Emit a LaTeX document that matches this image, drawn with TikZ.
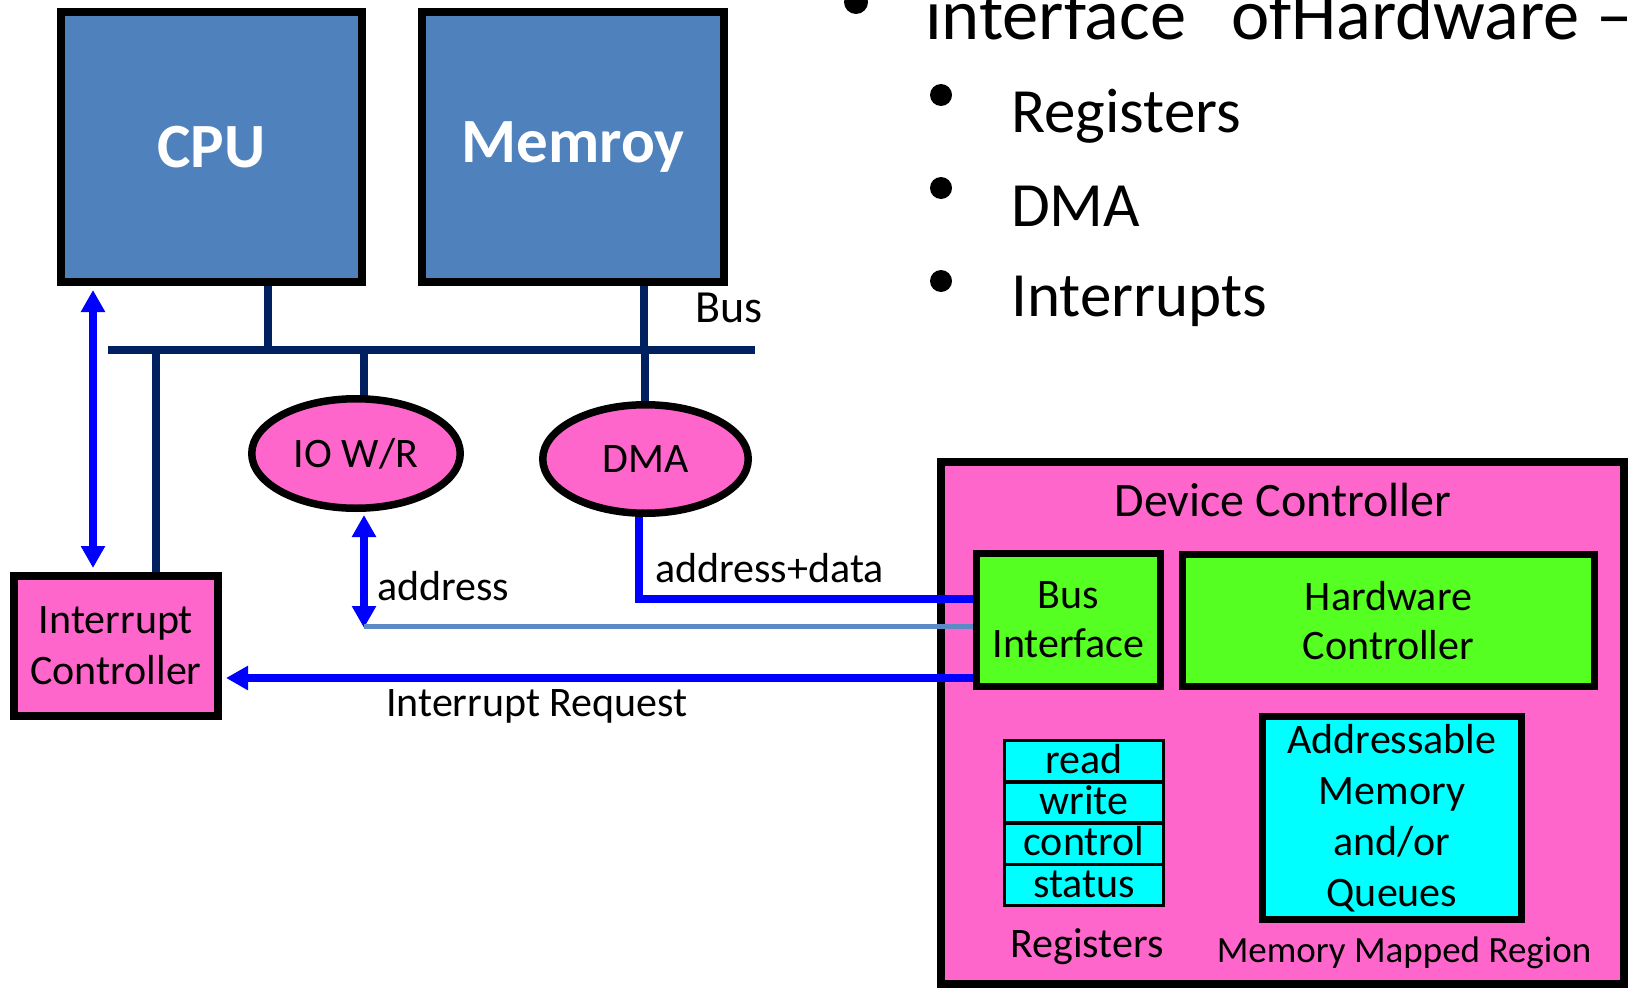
\documentclass[tikz,border=0pt]{standalone}
\usepackage{fontspec}
\setmainfont{Carlito}
\usetikzlibrary{arrows.meta,shapes.geometric}
\definecolor{unitblue}{HTML}{4F81BD}
\definecolor{busnavy}{HTML}{002060}
\definecolor{pinkfill}{HTML}{FF66CC}
\definecolor{greenfill}{HTML}{55FF22}
\definecolor{cyanfill}{HTML}{00FFFF}
\definecolor{sigblue}{HTML}{0000FF}
\definecolor{addrline}{HTML}{5B8AC5}
\pgfdeclarelayer{back}
\pgfdeclarelayer{wires}
\pgfsetlayers{back,wires,main}
\newcommand\lblfont{\fontsize{42}{51}\selectfont}
\begin{document}
\begin{tikzpicture}[x=1pt,y=-1pt,
  unitbox/.style={rectangle, draw=black, line width=8pt, fill=unitblue, text=white,
    inner sep=0pt, font=\fontsize{63}{74}\selectfont\bfseries},
  pinkbox/.style={rectangle, draw=black, line width=8pt, fill=pinkfill, inner sep=0pt,
    font=\lblfont, align=center},
  pinkell/.style={ellipse, draw=black, line width=7.5pt, fill=pinkfill, inner sep=0pt,
    font=\lblfont},
  greenbox/.style={rectangle, draw=black, line width=7pt, fill=greenfill, inner sep=0pt,
    font=\fontsize{42}{49}\selectfont, align=center},
  cyanbox/.style={rectangle, draw=black, line width=7pt, fill=cyanfill, inner sep=0pt,
    font=\lblfont, align=center},
  regrow/.style={rectangle, draw=black, line width=3.5pt, fill=cyanfill, inner sep=0pt,
    minimum width=159pt, minimum height=41.25pt, text height=30pt, text depth=6pt,
    font=\lblfont},
  lbl/.style={inner sep=0pt, font=\lblfont},
  busline/.style={draw=busnavy, line width=8pt},
  tapline/.style={draw=busnavy, line width=7.5pt},
  sig/.style={draw=sigblue, line width=7.5pt},
  addr/.style={draw=addrline, line width=5pt},
  tip/.tip={Triangle[length=22pt,width=23pt]},
  bulletdot/.style={circle, fill=black, inner sep=0pt},
]
\useasboundingbox (0,0) rectangle (1631,990);

% processor, memory and the units hanging off the bus
\node[unitbox, minimum width=301pt, minimum height=270pt] (cpu) at (211.5,147) {CPU};
\node[unitbox, minimum width=302pt, minimum height=270pt] (mem) at (573,147) {Memroy};
\node[pinkell, minimum width=208.5pt, minimum height=109.5pt] (io) at (356,453.5) {IO W/R};
\node[pinkell, minimum width=205.5pt, minimum height=108.5pt] (dma) at (645.5,459) {DMA};
\node[pinkbox, minimum width=204pt, minimum height=140pt] (ic) at (116,646) {Interrupt\\Controller};
\node[lbl, font=\fontsize{46}{54}\selectfont] (buslbl) at (729,308) {Bus};

% device controller
\begin{pgfonlayer}{back}
\node[pinkbox, minimum width=683pt, minimum height=522pt] (dc) at (1282.5,723) {};
\end{pgfonlayer}
\node[lbl, font=\fontsize{48}{56}\selectfont] (dctitle) at (1283,500) {Device Controller};
\node[greenbox, minimum width=184pt, minimum height=133pt] (bi) at (1068.5,620) {Bus\\Interface};
\node[greenbox, minimum width=412pt, minimum height=132pt] (hc) at (1388.5,620.5) {Hardware\\Controller};
\node[regrow] (rread) at (1084,761.25) {read};
\node[regrow] (rwrite) at (1084,802.5) {write};
\node[regrow] (rctrl) at (1084,843.75) {control};
\node[regrow] (rstat) at (1084,885) {status};
\node[cyanbox, minimum width=259pt, minimum height=203pt] (amem) at (1392,818)
  {Addressable\\Memory\\and/or\\Queues};
\node[lbl] (reglbl) at (1087,947) {Registers};
\node[lbl, font=\fontsize{37}{44}\selectfont] (mmrlbl) at (1404,953) {Memory Mapped Region};

% bus and its taps
\coordinate (busL) at (108,350);
\coordinate (busR) at (755,350);
\coordinate (cputap) at (268,350);
\coordinate (memtap) at (644,350);
\coordinate (ictap) at (156,350);
\coordinate (iotap) at (364,350);
\coordinate (dmatap) at (645,350);
\coordinate (cpuarr) at (93,0);
\coordinate (addrcorner) at (364,626);
\coordinate (adcorner) at (639,599);
\coordinate (irq) at (976,678);

\begin{pgfonlayer}{wires}
\draw[busline] (busL) -- (busR);
\draw[tapline] (cputap) -- (cputap |- cpu.center);
\draw[tapline] (memtap) -- (memtap |- mem.center);
\draw[tapline] (ictap) -- (ictap |- ic.center);
\draw[tapline] (iotap) -- (iotap |- io.center);
\draw[tapline] (dmatap) -- (dmatap |- dma.center);
\draw[sig, {tip}-{tip}, shorten <=4pt, shorten >=4pt] (cpuarr |- cpu.south) -- (cpuarr |- ic.north);
\draw[sig, {tip}-{tip}, shorten <=3pt] (addrcorner |- io.south) -- ([yshift=-2pt]addrcorner);
\draw[addr] (addrcorner) -- (addrcorner -| bi.west);
\draw[sig] (adcorner |- dma.center) -- (adcorner) -- (adcorner -| bi.west);
\draw[sig, -{tip}, shorten >=4pt] (irq) -- (irq -| ic.east);
\end{pgfonlayer}

\node[lbl, anchor=west] (addrlbl) at (377,586) {address};
\node[lbl, anchor=west] (adlbl) at (655,568) {address+data};
\node[lbl] (irqlbl) at (537,706) {Interrupt Request};

% bullet list
\node[bulletdot, minimum size=24pt] (b0) at (856,2) {};
\node[anchor=base west, inner sep=0pt, font=\fontsize{72.5}{86}\selectfont] (head) at (925,40)
  {interface\ \ \,ofHardware –};
\node[bulletdot, minimum size=22pt] (b1) at (941,95) {};
\node[bulletdot, minimum size=22pt] (b2) at (941,188) {};
\node[bulletdot, minimum size=22pt] (b3) at (941,281) {};
\node[anchor=base west, inner sep=0pt, font=\fontsize{63}{74}\selectfont] (it1) at (1011,132) {Registers};
\node[anchor=base west, inner sep=0pt, font=\fontsize{63}{74}\selectfont] (it2) at (1011,226) {DMA};
\node[anchor=base west, inner sep=0pt, font=\fontsize{63}{74}\selectfont] (it3) at (1011,316) {Interrupts};
\end{tikzpicture}
\end{document}
